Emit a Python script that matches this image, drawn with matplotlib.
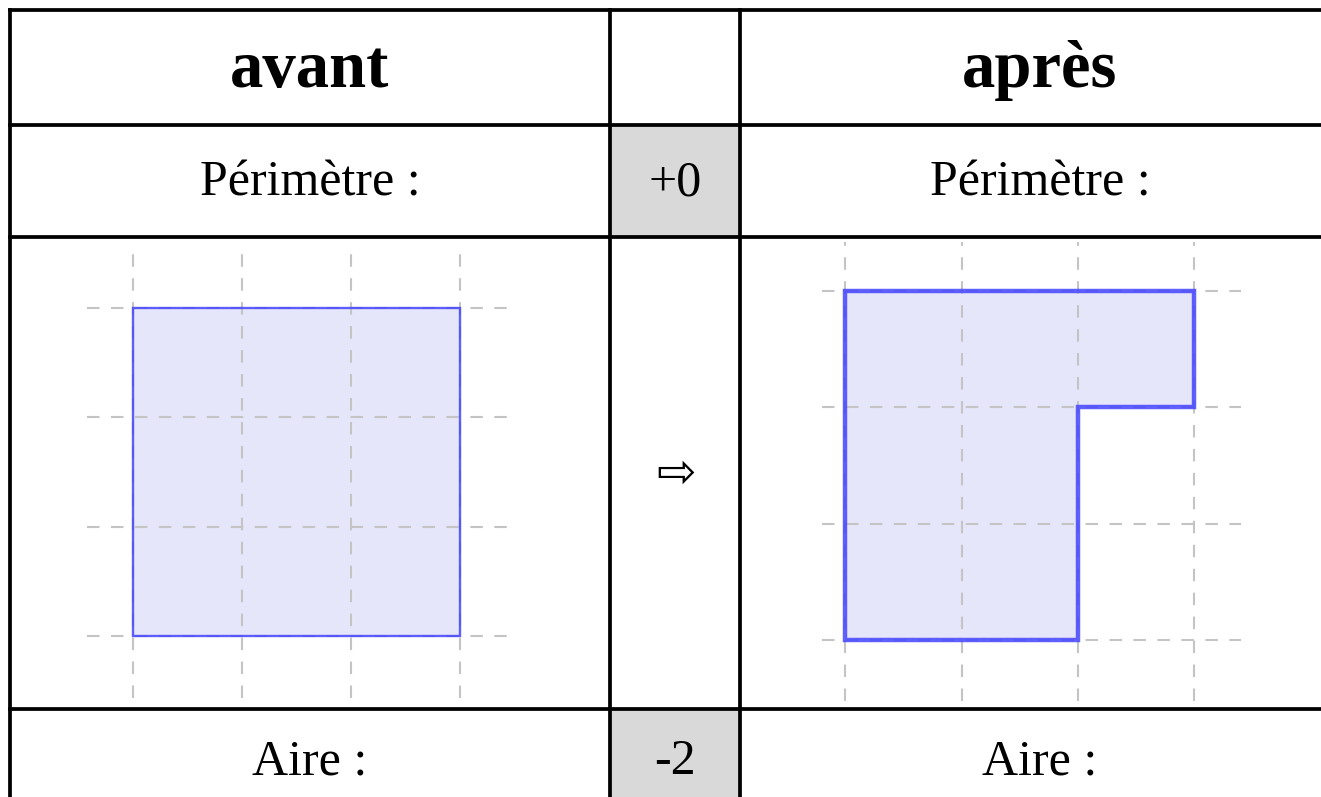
import matplotlib
matplotlib.use("Agg")
import matplotlib.pyplot as plt
from matplotlib.patches import Polygon, Rectangle

# ---- data ----
headers = ["avant", "", "après"]
row_labels = ["Périmètre :", "Aire :"]
changes = ["+0", "-2"]
arrow_symbol = "⇨"
grid_ticks = [0, 1, 2, 3]
shape_before = [(0, 0), (3, 0), (3, 3), (0, 3)]
shape_after = [(0, 0), (2, 0), (2, 2), (3, 2), (3, 3), (0, 3)]

W, H = 1321, 797
fig = plt.figure(figsize=(W / 100, H / 100), dpi=100)
ax = fig.add_axes([0, 0, 1, 1])
ax.set_xlim(0, W)
ax.set_ylim(H, 0)
ax.axis("off")

# table geometry (pixels)
col_x = [10, 610, 740, 1340]
row_y = [10, 125, 237, 709, 830]
lw_table = 2.7

# gray cells
for r in (1, 3):
    ax.add_patch(Rectangle((col_x[1], row_y[r]), col_x[2] - col_x[1],
                           row_y[r + 1] - row_y[r], facecolor="#d9d9d9",
                           edgecolor="none", zorder=0))
for y in row_y[:4]:
    ax.plot([col_x[0], W + 5], [y, y], color="black", lw=lw_table, zorder=3,
            solid_capstyle="projecting")
for x in col_x[:3]:
    ax.plot([x, x], [row_y[0], H + 5], color="black", lw=lw_table, zorder=3,
            solid_capstyle="projecting")

serif = ["Liberation Serif", "DejaVu Serif"]
cx = [(col_x[i] + col_x[i + 1]) / 2 for i in range(3)]
cx[2] = 1040
fs = 36
for i, h in enumerate(headers):
    if h:
        ax.text(cx[i], 70, h, ha="center", va="center", fontsize=48,
                fontweight="bold", family=serif)
ax.text(cx[0], 183, row_labels[0], ha="center", va="center", fontsize=fs, family=serif)
ax.text(cx[2], 183, row_labels[0], ha="center", va="center", fontsize=fs, family=serif)
ax.text(cx[1], 183, changes[0], ha="center", va="center", fontsize=fs, family=serif)
ax.text(cx[0], 762, row_labels[1], ha="center", va="center", fontsize=fs, family=serif)
ax.text(cx[2], 762, row_labels[1], ha="center", va="center", fontsize=fs, family=serif)
ax.text(cx[1], 762, changes[1], ha="center", va="center", fontsize=fs, family=serif)
ax.text(cx[1] + 1, 474, arrow_symbol, ha="center", va="center", fontsize=34,
        family=["DejaVu Sans"])


def draw_grid(rect_px, xr, yr, shape, lw):
    x0, y0, x1, y1 = rect_px
    a = fig.add_axes([x0 / W, 1 - y1 / H, (x1 - x0) / W, (y1 - y0) / H])
    a.set_xlim(*xr)
    a.set_ylim(*yr)
    a.axis("off")
    for t in grid_ticks:
        a.plot([t, t], yr, color="#c4c4c4", lw=1.5, dashes=(6, 5.5), zorder=1)
        a.plot(xr, [t, t], color="#c4c4c4", lw=1.5, dashes=(6, 5.5), zorder=1)
    a.add_patch(Polygon(shape, closed=True, facecolor="#e6e6fa",
                        edgecolor="none", zorder=0))
    a.add_patch(Polygon(shape, closed=True, facecolor="none",
                        edgecolor="#4444ff", alpha=0.85, lw=lw, zorder=2,
                        joinstyle="miter"))
    return a


draw_grid((87, 248, 518, 698), (-0.42, 3.53), (-0.57, 3.55), shape_before, 1.7)
draw_grid((822, 242, 1241, 701), (-0.2, 3.4), (-0.52, 3.42), shape_after, 3.2)

fig.savefig("out.png", dpi=100)
